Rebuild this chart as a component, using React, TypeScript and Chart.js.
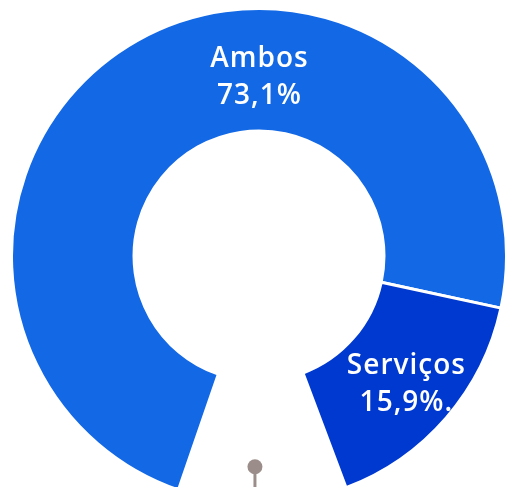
import React, { useEffect, useRef } from 'react';
import { Chart, registerables } from 'chart.js';

Chart.register(...registerables);

const categories = ['Ambos', 'Serviços', 'Produtos'];
const values = [73.1, 15.9, 11.0];
const valueLabels = ['73,1%', '15,9%.', ''];
const colors = ['#1268E5', '#0039CF', 'rgba(255,255,255,0)'];

const sliceLabelsPlugin = {
  id: 'sliceLabels',
  afterDatasetsDraw(chart: any, _args: any, opts: any) {
    const meta = chart.getDatasetMeta(0);
    const ctx = chart.ctx as CanvasRenderingContext2D;
    ctx.save();
    meta.data.forEach((arc: any, i: number) => {
      const p = arc.getProps(['x', 'y', 'startAngle', 'endAngle', 'innerRadius', 'outerRadius'], true);
      const thick = p.outerRadius - p.innerRadius;
      if (i === opts.pinIndex) {
        const mid = (p.startAngle + p.endAngle) / 2 + (opts.pinAngleShift * Math.PI) / 180;
        const r = p.innerRadius + thick * 0.7;
        const px = p.x + Math.cos(mid) * r;
        const py = p.y + Math.sin(mid) * r;
        ctx.strokeStyle = opts.pinColor;
        ctx.lineWidth = 3;
        ctx.beginPath();
        ctx.moveTo(px, py);
        ctx.lineTo(px, chart.height);
        ctx.stroke();
        ctx.fillStyle = opts.pinColor;
        ctx.beginPath();
        ctx.arc(px, py, 7.5, 0, Math.PI * 2);
        ctx.fill();
        return;
      }
      let mid = (p.startAngle + p.endAngle) / 2;
      let t = -Math.PI / 2;
      while (t < p.startAngle) t += Math.PI * 2;
      if (t <= p.endAngle) mid = t;
      const r = p.innerRadius + thick * opts.radii[i];
      const cx = p.x + Math.cos(mid) * r;
      const cy = p.y + Math.sin(mid) * r;
      ctx.fillStyle = '#ffffff';
      ctx.font = opts.font;
      (ctx as any).letterSpacing = '1px';
      ctx.textAlign = 'center';
      ctx.textBaseline = 'alphabetic';
      ctx.fillText(categories[i], cx + 0.5, cy - 8.4);
      ctx.fillText(valueLabels[i], cx + 0.5, cy + 28.3);
    });
    ctx.restore();
  },
};

export default function App() {
  const ref = useRef<HTMLCanvasElement>(null);
  useEffect(() => {
    if (!ref.current) return;
    const chart = new Chart(ref.current, {
      type: 'doughnut',
      data: {
        labels: categories,
        datasets: [
          {
            data: values,
            backgroundColor: colors,
            borderColor: '#ffffff',
            borderWidth: [3, 3, 0],
            hoverOffset: 0,
          },
        ],
      },
      options: {
        responsive: false,
        animation: false,
        rotation: -161,
        cutout: '50.5%',
        layout: { padding: 0 },
        plugins: {
          legend: { display: false },
          tooltip: { enabled: false },
          sliceLabels: {
            pinIndex: 2,
            pinColor: '#9B8E8A',
            pinAngleShift: 1.9,
            radii: [0.451, 0.563],
            font: '600 28px "Open Sans"',
          },
        } as any,
      },
      plugins: [sliceLabelsPlugin],
    });
    return () => chart.destroy();
  }, []);
  return (
    <div style={{ position: 'fixed', left: 0, top: 0, width: 508, height: 487, overflow: 'hidden', background: '#fff' }}>
      <canvas ref={ref} width={498} height={498} style={{ position: 'absolute', left: 10, top: 7, width: 498, height: 498 }} />
    </div>
  );
}
